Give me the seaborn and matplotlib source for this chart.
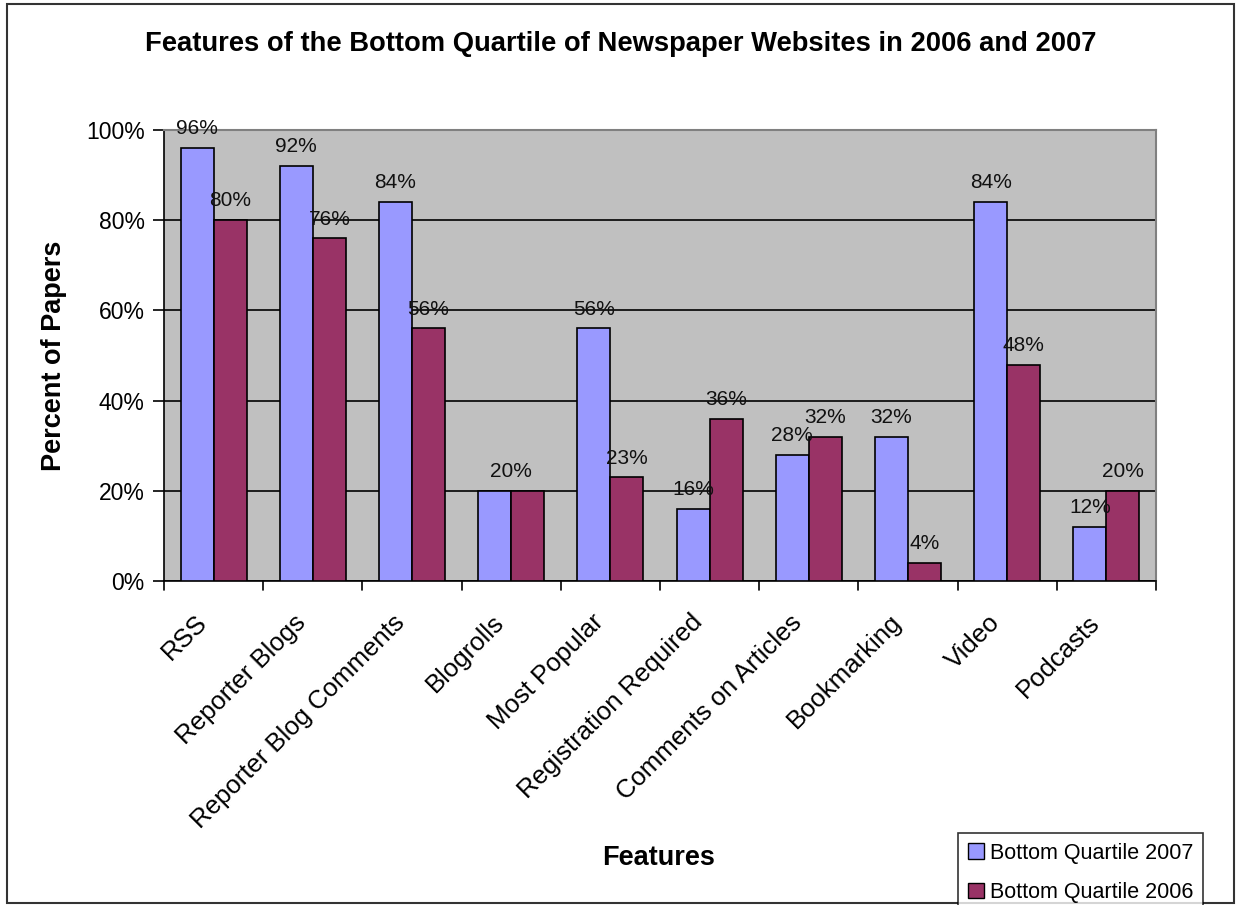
import matplotlib
matplotlib.use("Agg")
import matplotlib.pyplot as plt
import matplotlib.patches as mpatches
import matplotlib.transforms as mtransforms
from matplotlib.ticker import MultipleLocator, FuncFormatter
import seaborn as sns
import pandas as pd

features = ["RSS", "Reporter Blogs", "Reporter Blog Comments", "Blogrolls",
            "Most Popular", "Registration Required", "Comments on Articles",
            "Bookmarking", "Video", "Podcasts"]
q2007 = [96, 92, 84, 20, 56, 16, 28, 32, 84, 12]
q2006 = [80, 76, 56, 20, 23, 36, 32, 4, 48, 20]
series_names = ["Bottom Quartile 2007", "Bottom Quartile 2006"]
series_colors = ["#9999FF", "#993366"]

df = pd.DataFrame({
    "Feature": features * 2,
    "Value": q2007 + q2006,
    "Series": [series_names[0]] * len(features) + [series_names[1]] * len(features),
})

sns.set_theme(style="white")
plt.rcParams["font.family"] = ["Liberation Sans", "DejaVu Sans"]
plt.rcParams["text.color"] = "black"
plt.rcParams["axes.labelcolor"] = "black"
plt.rcParams["xtick.color"] = "black"
plt.rcParams["ytick.color"] = "black"

W, H = 1236, 905
fig = plt.figure(figsize=(W / 100, H / 100), dpi=100)
ax = fig.add_axes([164 / W, 1 - 581 / H, (1156 - 164) / W, (581 - 130) / H])
ax.set_facecolor("#C0C0C0")

sns.barplot(data=df, x="Feature", y="Value", hue="Series", order=features,
            hue_order=series_names, palette=series_colors, width=0.667,
            edgecolor="black", linewidth=1.2, saturation=1, ax=ax, legend=False,
            zorder=3)

ax.set_ylim(0, 100)
ax.set_xlim(-0.5, len(features) - 0.5)
ax.yaxis.set_major_locator(MultipleLocator(20))
ax.yaxis.set_major_formatter(FuncFormatter(lambda v, p: f"{int(v)}%"))
ax.grid(axis="y", color="black", linewidth=1.2, zorder=1)
ax.set_axisbelow(True)

# value labels above every bar; where both bars of a group share a value,
# a single label is shown, centred over the pair
label_sets = []
for container, vals in zip(ax.containers, [q2007, q2006]):
    anns = ax.bar_label(container, labels=[f"{v}%" for v in vals], padding=7,
                        fontsize=15, color="#111111")
    label_sets.append(anns)
for i, (a, b) in enumerate(zip(q2007, q2006)):
    if a == b:
        label_sets[1][i].set_visible(False)
        label_sets[0][i].xyann = (12, label_sets[0][i].xyann[1])

# category ticks sit on group boundaries, labels at group centres
ax.set_xticks(range(len(features)))
ax.set_xticklabels(features, rotation=45, ha="right", va="top",
                   rotation_mode="anchor", fontsize=18.5)
ax.tick_params(axis="x", length=0, pad=21)
shift = mtransforms.ScaledTranslation(-19 / 100, 0, fig.dpi_scale_trans)
for lab in ax.get_xticklabels():
    lab.set_transform(lab.get_transform() + shift)
for b in range(len(features) + 1):
    ax.plot([b - 0.5, b - 0.5], [0, -2], color="black", lw=1.2,
            clip_on=False, transform=ax.transData)
ax.tick_params(axis="y", direction="out", length=8, width=1.2, color="black",
               labelsize=16.5, pad=6, left=True)

for side in ["top", "right"]:
    ax.spines[side].set_color("#808080")
    ax.spines[side].set_linewidth(1.5)
for side in ["left", "bottom"]:
    ax.spines[side].set_color("black")
    ax.spines[side].set_linewidth(1.2)

ax.set_xlabel("Features", fontsize=19.5, fontweight="bold")
ax.xaxis.set_label_coords((659 - 164) / (1156 - 164), -(858 - 581) / (581 - 130))
ax.xaxis.label.set_va("center")
ax.set_ylabel("Percent of Papers", fontsize=19.5, fontweight="bold")
ax.yaxis.set_label_coords(-(164 - 54) / (1156 - 164), 0.5)
ax.yaxis.label.set_va("center")

fig.text(621 / W, 1 - 44 / H,
         "Features of the Bottom Quartile of Newspaper Websites in 2006 and 2007",
         ha="center", va="center", fontsize=19.7, fontweight="bold")

handles = [mpatches.Patch(facecolor=c, edgecolor="black", linewidth=1) for c in series_colors]
leg = fig.legend(handles, series_names, loc="upper left",
                 bbox_to_anchor=(958 / W, 1 - 833 / H), fontsize=15.5,
                 frameon=True, fancybox=False, edgecolor="black",
                 handlelength=0.75, handleheight=0.75, handletextpad=0.3,
                 borderpad=0.45, labelspacing=0.85, borderaxespad=0)
leg.get_frame().set_linewidth(1.2)

# outer chart border
fig.add_artist(mpatches.Rectangle((7 / W, 2 / H), 1227 / W, 899 / H,
                                  transform=fig.transFigure, fill=False,
                                  edgecolor="#333333", linewidth=1.5))

fig.savefig("out.png", dpi=100, facecolor="white")
